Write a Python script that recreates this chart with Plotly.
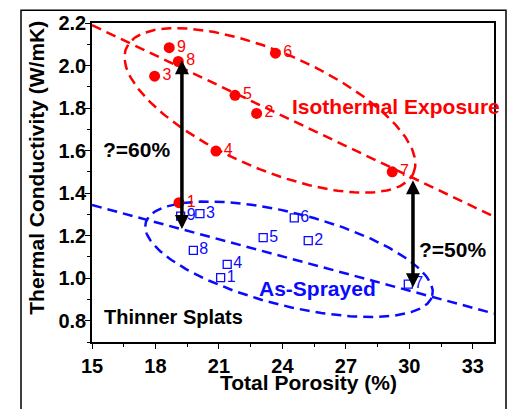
import numpy as np
import plotly.graph_objects as go

# Sample identifiers
sample_ids = ["1", "2", "3", "4", "5", "6", "7", "8", "9"]

# Isothermal exposure: total porosity (%) and thermal conductivity (W/mK)
iso_porosity = [19.11, 22.78, 17.96, 20.86, 21.76, 23.67, 29.19, 19.08, 18.65]
iso_k = [1.355, 1.775, 1.95, 1.598, 1.86, 2.058, 1.50, 2.019, 2.084]

# As-sprayed: total porosity (%) and thermal conductivity (W/mK)
asp_porosity = [21.08, 25.22, 20.10, 21.39, 23.09, 24.56, 29.95, 19.79, 19.19]
asp_k = [1.003, 1.177, 1.304, 1.065, 1.191, 1.284, 0.972, 1.131, 1.292]

# Trend lines across the porosity axis
trend_x = [15, 34]
iso_trend = [2.19, 1.29]
asp_trend = [1.344, 0.834]

# Conductivity change arrows: (porosity, from, to)
drop_60 = (19.25, 1.224, 2.025)
drop_50 = (30.17, 0.95, 1.46)

x_range = [15, 34]
y_range = [0.7, 2.2]

W, H = 516, 409
M = dict(l=92, r=22, t=18, b=67)
plot_w = W - M["l"] - M["r"]
plot_h = H - M["t"] - M["b"]
px_x = plot_w / (x_range[1] - x_range[0])
px_y = plot_h / (y_range[1] - y_range[0])

FONT = "Liberation Sans, Arial, sans-serif"
RED = "#ff0000"
BLUE = "#0a0aff"


def ellipse(cx, cy, a, b, angle_deg, n=240):
    """Tilted ellipse outline; semi-axes in screen pixels, centre in data units."""
    t = np.linspace(0, 2 * np.pi, n)
    phi = np.radians(angle_deg)
    dx = a * np.cos(t) * np.cos(phi) + b * np.sin(t) * np.sin(phi)
    dy = a * np.cos(t) * np.sin(phi) - b * np.sin(t) * np.cos(phi)
    return cx + dx / px_x, cy - dy / px_y


def paper_x(px):
    return (px - M["l"]) / plot_w


def paper_y(py):
    return (H - M["b"] - py) / plot_h


fig = go.Figure()

dash = "10px,6px"
fig.add_trace(go.Scatter(x=trend_x, y=iso_trend, mode="lines",
                         line=dict(color=RED, width=2.5, dash=dash), hoverinfo="skip"))
fig.add_trace(go.Scatter(x=trend_x, y=asp_trend, mode="lines",
                         line=dict(color=BLUE, width=2.5, dash=dash), hoverinfo="skip"))

ex, ey = ellipse(23.41, 1.789, 157, 59, 24)
fig.add_trace(go.Scatter(x=ex, y=ey, mode="lines",
                         line=dict(color=RED, width=2.5, dash=dash), hoverinfo="skip"))
ex, ey = ellipse(24.31, 1.089, 148, 47, 14.5)
fig.add_trace(go.Scatter(x=ex, y=ey, mode="lines",
                         line=dict(color=BLUE, width=2.5, dash=dash), hoverinfo="skip"))

fig.add_trace(go.Scatter(
    x=iso_porosity, y=iso_k, mode="markers+text", text=sample_ids,
    textposition="middle right", textfont=dict(family=FONT, size=16, color=RED),
    marker=dict(symbol="circle", size=11, color=RED), cliponaxis=False))
fig.add_trace(go.Scatter(
    x=asp_porosity, y=asp_k, mode="markers+text", text=sample_ids,
    textposition="middle right", textfont=dict(family=FONT, size=16, color=BLUE),
    marker=dict(symbol="square-open", size=8, color=BLUE, line=dict(width=1.3)),
    cliponaxis=False))

for px, lo, hi in (drop_60, drop_50):
    fig.add_annotation(x=px, y=hi, ax=px, ay=lo, xref="x", yref="y",
                       axref="x", ayref="y", text="", showarrow=True,
                       arrowside="end+start", arrowhead=2, arrowsize=0.8,
                       arrowwidth=3.5, arrowcolor="black", standoff=0, startstandoff=0)

labels = [
    ("?=60%", 17.10, 1.603, "black", 21),
    ("?=50%", 32.04, 1.135, "black", 21),
    ("Isothermal Exposure", 29.39, 1.806, RED, 21),
    ("As-Sprayed", 25.66, 0.95, BLUE, 21),
    ("Thinner Splats", 18.83, 0.816, "black", 20),
]
for txt, x, y, col, sz in labels:
    fig.add_annotation(x=x, y=y, xref="x", yref="y", text=txt, showarrow=False,
                       xanchor="center", yanchor="middle",
                       font=dict(family=FONT, size=sz, color=col, weight="bold"))

# Axis titles
fig.add_annotation(x=paper_x(308), y=paper_y(383), xref="paper", yref="paper",
                   xanchor="center", yanchor="middle",
                   text="Total Porosity (%)", showarrow=False,
                   font=dict(family=FONT, size=21, color="black", weight="bold"))
fig.add_annotation(x=paper_x(37), y=paper_y(165), xref="paper", yref="paper",
                   xanchor="center", yanchor="middle",
                   text="Thermal Conductivity (W/mK)", showarrow=False, textangle=-90,
                   font=dict(family=FONT, size=21, color="black", weight="bold"))

# Outer frame around the whole panel
fig.add_shape(type="rect", xref="paper", yref="paper",
              x0=paper_x(21), x1=paper_x(506), y0=-0.4, y1=paper_y(5),
              line=dict(color="black", width=1.5), layer="above")

axis_common = dict(showline=True, mirror=True, linecolor="black", linewidth=1.5,
                   ticks="outside", ticklen=5, tickwidth=1.3, tickcolor="black",
                   showgrid=False, zeroline=False,
                   tickfont=dict(family=FONT, size=20, color="black", weight="bold"))

fig.update_xaxes(range=x_range, tickvals=[15, 18, 21, 24, 27, 30, 33],
                 minor=dict(ticks="outside", ticklen=3, dtick=1.5, tick0=15, tickcolor="black"),
                 **axis_common)
fig.update_yaxes(range=y_range, tickvals=[0.8, 1.0, 1.2, 1.4, 1.6, 1.8, 2.0, 2.2],
                 tickformat=".1f", ticklabelstandoff=-5,
                 minor=dict(ticks="outside", ticklen=3, dtick=0.1, tick0=0.8, tickcolor="black"),
                 **axis_common)

fig.update_layout(width=W, height=H, margin=M, showlegend=False,
                  paper_bgcolor="white", plot_bgcolor="white")

fig.write_html("out.html")
